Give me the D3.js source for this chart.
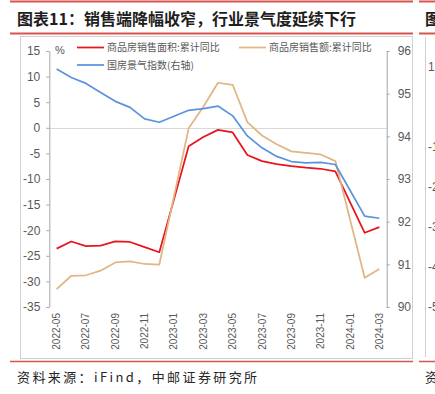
<!DOCTYPE html>
<html>
<head>
<meta charset="utf-8">
<script src="https://cdn.jsdelivr.net/npm/d3@7"></script>
<style>
  html, body { margin: 0; padding: 0; background: #fff; }
  svg { display: block; }
</style>
</head>
<body>
<div id="chart"></div>
<script>
// months on the x axis (2023-01 and 2024-01 have no release)
const months = ['2022-05','2022-06','2022-07','2022-08','2022-09','2022-10','2022-11','2022-12',
  '2023-01','2023-02','2023-03','2023-04','2023-05','2023-06','2023-07','2023-08','2023-09',
  '2023-10','2023-11','2023-12','2024-01','2024-02','2024-03']

const areaYoY  = [-23.6, -22.2, -23.1, -23.0, -22.2, -22.3, -23.3, -24.3,
  null, -3.6, -1.8, -0.4, -0.9, -5.3, -6.5, -7.1, -7.5, -7.8, -8.0, -8.5, null, -20.5, -19.4]
const salesYoY = [-31.5, -28.9, -28.8, -27.9, -26.3, -26.1, -26.6, -26.7,
  null, -0.1, 4.1, 8.8, 8.4, 1.1, -1.5, -3.2, -4.6, -4.9, -5.2, -6.5, null, -29.3, -27.6]
const climate  = [95.58, 95.38, 95.24, 95.03, 94.82, 94.68, 94.41, 94.33,
  null, 94.61, 94.65, 94.71, 94.48, 94.01, 93.73, 93.53, 93.41, 93.38, 93.39, 93.34, null, 92.13, 92.08]

const leftTicks  = [15, 10, 5, 0, -5, -10, -15, -20, -25, -30, -35]
const rightTicks = [96, 95, 94, 93, 92, 91, 90]
const nextTicks  = [1, -1, -2, -3, -4, -5]

const W = 435, H = 394
const gray = '#595959'
const sans = '"Liberation Sans", Arial, sans-serif'
const cjk = '"Noto Sans CJK SC", "Noto Sans", sans-serif'

const svg = d3.select('#chart').append('svg')
  .attr('width', W).attr('height', H)

// red rules and frames
const rule = '#d9534f'
;[[10, 413], [419, 435]].forEach(([a, b]) => {
  svg.append('line').attr('x1', a).attr('x2', b).attr('y1', 1.5).attr('y2', 1.5)
    .attr('stroke', rule).attr('stroke-width', 2)
  svg.append('line').attr('x1', a).attr('x2', b).attr('y1', 33.5).attr('y2', 33.5)
    .attr('stroke', rule).attr('stroke-width', 2)
  svg.append('line').attr('x1', a).attr('x2', b).attr('y1', 361.5).attr('y2', 361.5)
    .attr('stroke', rule).attr('stroke-width', 1.5)
})
svg.append('rect').attr('x', 20.5).attr('y', 36.5).attr('width', 392).attr('height', 322)
  .attr('fill', 'none').attr('stroke', '#d0d0d0')
svg.append('line').attr('x1', 425.5).attr('x2', 425.5).attr('y1', 37).attr('y2', 357)
  .attr('stroke', '#d0d0d0')

// title and source
svg.append('text').attr('x', 17).attr('y', 24.5)
  .style('font-family', cjk).style('font-size', '16px').style('font-weight', 'bold')
  .attr('fill', '#1e1e1e')
  .text('图表11：销售端降幅收窄，行业景气度延续下行')
svg.append('text').attr('x', 425).attr('y', 24.5)
  .style('font-family', cjk).style('font-size', '16px').style('font-weight', 'bold')
  .attr('fill', '#1e1e1e').text('图')
svg.append('text').attr('x', 17).attr('y', 382)
  .style('font-family', cjk).style('font-size', '13px').style('letter-spacing', '2.4px')
  .attr('fill', '#262626')
  .text('资料来源：iFind，中邮证券研究所')
svg.append('text').attr('x', 425).attr('y', 382)
  .style('font-family', cjk).style('font-size', '13px').attr('fill', '#262626').text('资')

// neighbour chart's clipped tick labels
svg.append('g').selectAll('text').data(nextTicks).enter().append('text')
  .attr('x', 428).attr('y', (d, i) => 67 + (1 - d) * 40 + 4)
  .style('font-family', sans).style('font-size', '12px').attr('fill', gray)
  .text(d => String(d))

// scales
const x = d3.scaleBand().domain(months).range([49.3, 386.7])
const yL = d3.scaleLinear().domain([-35, 15]).range([307, 51])
const yR = d3.scaleLinear().domain([90, 96]).range([307, 51])
const cx = d => x(d) + x.bandwidth() / 2

// zero line
svg.append('line').attr('x1', 49.3).attr('x2', 386.7)
  .attr('y1', Math.round(yL(0)) + 0.5).attr('y2', Math.round(yL(0)) + 0.5)
  .attr('stroke', '#d9d9d9')

// axes
const gL = svg.append('g').attr('transform', 'translate(49.3,0)')
  .call(d3.axisLeft(yL).tickValues(leftTicks).tickSize(3).tickSizeOuter(0).tickPadding(6)
    .tickFormat(d => String(d)))
const gR = svg.append('g').attr('transform', 'translate(386.7,0)')
  .call(d3.axisRight(yR).tickValues(rightTicks).tickSize(3).tickSizeOuter(0).tickPadding(8)
    .tickFormat(d => String(d)))
;[gL, gR].forEach(g => {
  g.select('.domain').attr('stroke', '#a6a6a6')
  g.selectAll('.tick line').attr('stroke', '#a6a6a6')
  g.selectAll('.tick text').attr('fill', gray).style('font-family', sans).style('font-size', '12px')
})

const gX = svg.append('g').attr('transform', 'translate(0,307)')
  .call(d3.axisBottom(x).tickValues(months.filter((m, i) => i % 2 === 0)).tickSize(0))
gX.select('.domain').remove()
gX.selectAll('.tick text')
  .attr('transform', 'translate(0,6) rotate(-90)')
  .attr('x', 0).attr('y', 0).attr('dy', '0.35em')
  .style('text-anchor', 'end')
  .attr('fill', gray).style('font-family', sans).style('font-size', '10px')

// series
const series = [
  { vals: areaYoY,  y: yL, color: '#e8141e' },
  { vals: salesYoY, y: yL, color: '#e2b584' },
  { vals: climate,  y: yR, color: '#5b94dc' }
]
series.forEach(s => {
  const pts = months.map((m, i) => [m, s.vals[i]]).filter(p => p[1] != null)
  svg.append('path').datum(pts)
    .attr('fill', 'none').attr('stroke', s.color).attr('stroke-width', 1.75)
    .attr('stroke-linejoin', 'round')
    .attr('d', d3.line().x(p => cx(p[0])).y(p => s.y(p[1])))
})

// legend
const legend = [
  { label: '商品房销售面积:累计同比', color: '#e8141e', x: 77, y: 47.5 },
  { label: '商品房销售额:累计同比',   color: '#e2b584', x: 239, y: 47.5 },
  { label: '国房景气指数(右轴)',       color: '#5b94dc', x: 77, y: 65 }
]
legend.forEach(l => {
  svg.append('line').attr('x1', l.x).attr('x2', l.x + 27).attr('y1', l.y).attr('y2', l.y)
    .attr('stroke', l.color).attr('stroke-width', 1.75)
  svg.append('text').attr('x', l.x + 30).attr('y', l.y + 3.6)
    .style('font-family', cjk).style('font-size', '10px').attr('fill', gray)
    .text(l.label)
})
svg.append('text').attr('x', 55).attr('y', 54)
  .style('font-family', sans).style('font-size', '11px').attr('fill', gray).text('%')
</script>
</body>
</html>
